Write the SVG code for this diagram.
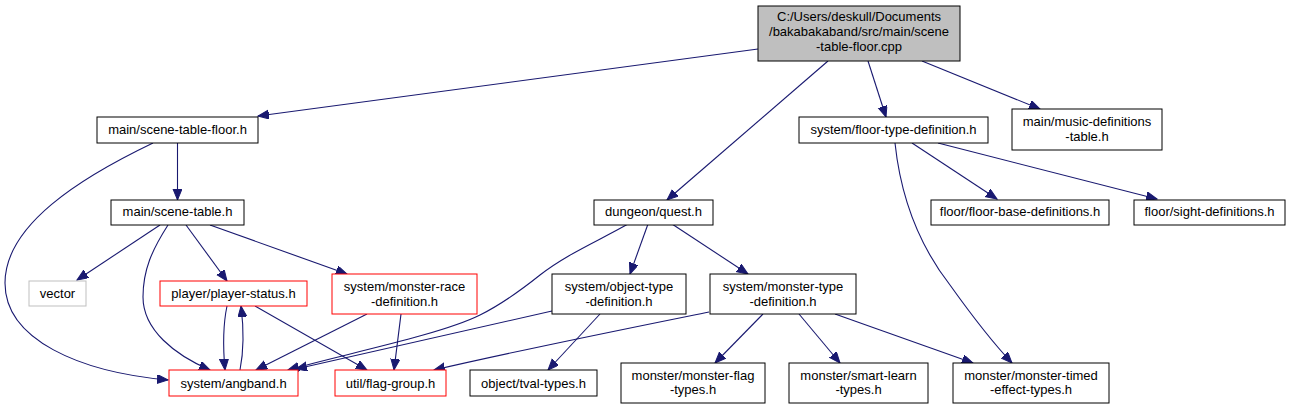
<svg xmlns="http://www.w3.org/2000/svg" width="1290" height="409" viewBox="0 0 1290 409">
<style>
  .n rect { fill: #ffffff; stroke: #000000; stroke-width: 1; }
  .n.red rect { stroke: #ff0000; }
  .n.gray rect { stroke: #bfbfbf; }
  .n.root rect { fill: #bfbfbf; }
  .n text { font-family: "Liberation Sans", Arial, sans-serif; font-size: 13px; fill: #000000; text-anchor: middle; }
  .e path { fill: none; stroke: #191970; stroke-width: 1.1; marker-end: url(#arr); }
</style>
<defs>
  <marker id="arr" markerUnits="userSpaceOnUse" markerWidth="14" markerHeight="12" refX="11" refY="4.5" orient="auto">
    <path d="M0,0 L11,4.5 L0,9 Z" fill="#191970" stroke="#191970" stroke-width="1"/>
  </marker>
</defs>
<rect width="1290" height="409" fill="#ffffff"/>
<g id="edges" class="e">
  <path d="M758,49 L258,116"/>
  <path d="M828,61 L667,200"/>
  <path d="M868,61 L886,117"/>
  <path d="M922,61 L1040,109"/>
  <path d="M177.5,143 L177.5,200"/>
  <path d="M153,143 C80,178 5,225 5,283 C5,340 80,372 168,380"/>
  <path d="M160,225 L77,280"/>
  <path d="M168,225 C152,250 143,270 143,297 C143,330 175,355 210,370"/>
  <path d="M186,225 L227,281"/>
  <path d="M210,225 L347,274"/>
  <path d="M227,306 C223,325 223,348 225,370"/>
  <path d="M240,370 C244,350 244,330 241,306"/>
  <path d="M255,306 L367,370"/>
  <path d="M367,314 L256,370"/>
  <path d="M401,314 L394,370"/>
  <path d="M628,224 C600,240 565,255 540,275 C515,295 500,305 480,315 C440,335 340,355 288,370"/>
  <path d="M552,311 L296,369"/>
  <path d="M648,224 L630,274"/>
  <path d="M672,224 L748,274"/>
  <path d="M600,314 L548,370"/>
  <path d="M709,312 C620,330 520,350 434,370"/>
  <path d="M763,314 L715,363"/>
  <path d="M799,314 L840,363"/>
  <path d="M835,314 L973,363"/>
  <path d="M912,143 L997,199"/>
  <path d="M938,143 L1157,199"/>
  <path d="M895,143 C900,190 915,240 950,285 C975,320 995,345 1012,363"/>
</g>
<g id="root" class="n root">
  <rect x="758" y="6" width="202" height="55"/>
  <text x="859" y="21">C:/Users/deskull/Documents</text>
  <text x="859" y="36">/bakabakaband/src/main/scene</text>
  <text x="859" y="51">-table-floor.cpp</text>
</g>
<g id="scene-table-floor" class="n">
  <rect x="97" y="117" width="161" height="26"/>
  <text x="177.5" y="133.5">main/scene-table-floor.h</text>
</g>
<g id="scene-table" class="n">
  <rect x="111" y="200" width="133" height="25"/>
  <text x="177.5" y="216">main/scene-table.h</text>
</g>
<g id="vector" class="n gray">
  <rect x="29" y="281" width="57" height="25"/>
  <text x="57.5" y="297.5">vector</text>
</g>
<g id="player-status" class="n red">
  <rect x="160" y="281" width="147" height="25"/>
  <text x="233.5" y="297.5">player/player-status.h</text>
</g>
<g id="monster-race-definition" class="n red">
  <rect x="332" y="274" width="145" height="40"/>
  <text x="404.5" y="291">system/monster-race</text>
  <text x="404.5" y="305.5">-definition.h</text>
</g>
<g id="angband" class="n red">
  <rect x="169" y="370" width="129" height="26"/>
  <text x="233.5" y="387.5">system/angband.h</text>
</g>
<g id="flag-group" class="n red">
  <rect x="335" y="370" width="111" height="26"/>
  <text x="390.5" y="387.5">util/flag-group.h</text>
</g>
<g id="quest" class="n">
  <rect x="594" y="200" width="119" height="25"/>
  <text x="653.5" y="216">dungeon/quest.h</text>
</g>
<g id="object-type-definition" class="n">
  <rect x="552" y="274" width="134" height="40"/>
  <text x="619" y="291">system/object-type</text>
  <text x="619" y="305.5">-definition.h</text>
</g>
<g id="monster-type-definition" class="n">
  <rect x="710" y="274" width="146" height="40"/>
  <text x="783" y="291">system/monster-type</text>
  <text x="783" y="305.5">-definition.h</text>
</g>
<g id="tval-types" class="n">
  <rect x="470" y="370" width="127" height="26"/>
  <text x="533.5" y="387.5">object/tval-types.h</text>
</g>
<g id="monster-flag-types" class="n">
  <rect x="621" y="363" width="144" height="40"/>
  <text x="693" y="379.5">monster/monster-flag</text>
  <text x="693" y="394">-types.h</text>
</g>
<g id="smart-learn-types" class="n">
  <rect x="789" y="363" width="139" height="40"/>
  <text x="858.5" y="379.5">monster/smart-learn</text>
  <text x="858.5" y="394">-types.h</text>
</g>
<g id="monster-timed-effect-types" class="n">
  <rect x="953" y="363" width="156" height="40"/>
  <text x="1031" y="379.5">monster/monster-timed</text>
  <text x="1031" y="394">-effect-types.h</text>
</g>
<g id="floor-type-definition" class="n">
  <rect x="799" y="117" width="189" height="26"/>
  <text x="893.5" y="133.5">system/floor-type-definition.h</text>
</g>
<g id="music-definitions-table" class="n">
  <rect x="1012" y="109" width="150" height="41"/>
  <text x="1087" y="126">main/music-definitions</text>
  <text x="1087" y="140.5">-table.h</text>
</g>
<g id="floor-base-definitions" class="n">
  <rect x="931" y="200" width="178" height="25"/>
  <text x="1020" y="216">floor/floor-base-definitions.h</text>
</g>
<g id="sight-definitions" class="n">
  <rect x="1134" y="200" width="151" height="25"/>
  <text x="1209.5" y="216">floor/sight-definitions.h</text>
</g>
</svg>
